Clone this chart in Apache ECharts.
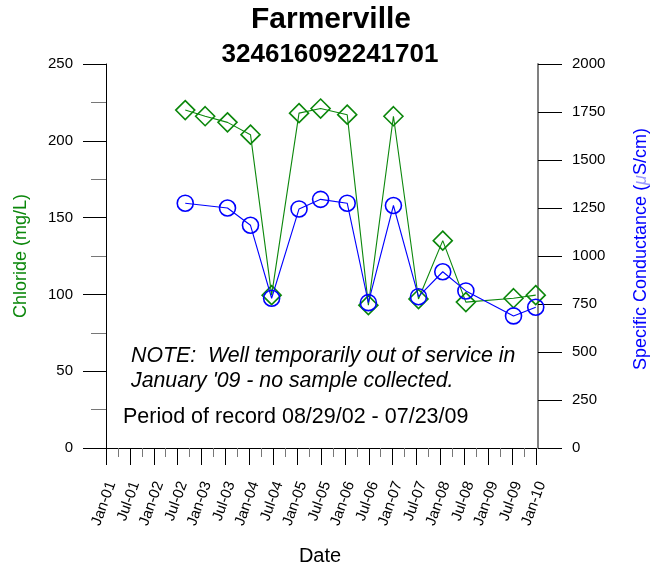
<!DOCTYPE html>
<html>
<head>
<meta charset="utf-8">
<script src="https://cdn.jsdelivr.net/npm/echarts@6/dist/echarts.min.js"></script>
<style>
html,body{margin:0;padding:0;background:#fff;}
#chart{width:657px;height:571px;}
</style>
</head>
<body>
<div id="chart"></div>
<script>
// ---- data ----
var sampleDates = ['2002-08-29','2003-01-29','2003-07-17','2004-01-10','2004-06-19','2005-01-16','2005-06-28','2006-01-19','2006-06-28','2007-01-07','2007-07-16','2008-01-19','2008-07-13','2009-07-12','2009-12-30'];
var chloride = [220, 216, 212, 204, 99.5, 218, 221, 217, 93, 216, 97, 135, 95, 97.5, 99.5];
var conductance = [1275, null, 1250, 1160, 780, 1245, 1295, 1275, 757, 1263, 788, 918, 818, 688, 733];
var xTickLabels = ['Jan-01','Jul-01','Jan-02','Jul-02','Jan-03','Jul-03','Jan-04','Jul-04','Jan-05','Jul-05','Jan-06','Jul-06','Jan-07','Jul-07','Jan-08','Jul-08','Jan-09','Jul-09','Jan-10'];
var chlorideTicks = [0, 50, 100, 150, 200, 250];
var conductanceTicks = [0, 250, 500, 750, 1000, 1250, 1500, 1750, 2000];

// months since Jan 2001
function monthIndex(s) {
  var p = s.split('-');
  var y = +p[0], m = +p[1], d = +p[2];
  var dim = new Date(y, m, 0).getDate();
  return (y - 2001) * 12 + (m - 1) + (d - 1) / dim;
}
var greenData = sampleDates.map(function (d, i) { return [monthIndex(d), chloride[i]]; });
var blueData = sampleDates.map(function (d, i) { return [monthIndex(d), conductance[i]]; });

var chart = echarts.init(document.getElementById('chart'), null, {renderer: 'canvas'});
var FONT = 'Liberation Sans, Arial, sans-serif';
var GREEN = '#0b870b';
var option = {
  backgroundColor: '#fff',
  animation: false,
  textStyle: {fontFamily: FONT},
  grid: {left: 106, right: 121, top: 64, bottom: 123, containLabel: false},
  xAxis: {
    type: 'value', min: 0, max: 108, interval: 6,
    axisLine: {show: true, lineStyle: {color: '#000', width: 1}},
    axisTick: {show: true, length: 17, lineStyle: {color: '#000'}},
    minorTick: {show: true, splitNumber: 2, length: 9, lineStyle: {color: '#777'}},
    splitLine: {show: false},
    axisLabel: {
      rotate: 70, margin: 32, fontSize: 15, color: '#000', fontFamily: FONT,
      verticalAlign: 'top', lineHeight: 12,
      formatter: function (v) { return xTickLabels[Math.round(v / 6)] || ''; }
    }
  },
  yAxis: [{
    type: 'value', min: 0, max: 250, interval: 50, position: 'left',
    axisLine: {show: true, lineStyle: {color: '#000', width: 1}},
    axisTick: {show: true, length: 23, lineStyle: {color: '#000'}},
    minorTick: {show: true, splitNumber: 2, length: 15, lineStyle: {color: '#777'}},
    splitLine: {show: false},
    axisLabel: {margin: 33, fontSize: 15, color: '#000', fontFamily: FONT,
      formatter: function (v) { return String(v); }},
    name: 'Chloride (mg/L)', nameLocation: 'middle', nameGap: 76,
    nameTextStyle: {fontSize: 18, color: GREEN, fontFamily: FONT}
  }, {
    type: 'value', min: 0, max: 2000, interval: 250, position: 'right', offset: 2,
    axisLine: {show: true, lineStyle: {color: '#808080', width: 2}},
    axisTick: {show: true, length: 24, lineStyle: {color: '#000'}},
    splitLine: {show: false},
    axisLabel: {margin: 34, fontSize: 15, color: '#000', fontFamily: FONT,
      formatter: function (v) { return String(v); }}
  }],
  series: [{
    name: 'Chloride', type: 'line', xAxisIndex: 0, yAxisIndex: 0,
    data: greenData, symbol: 'diamond', symbolSize: 19, clip: false,
    itemStyle: {color: 'rgba(0,0,0,0)', borderColor: GREEN, borderWidth: 1.6},
    lineStyle: {color: GREEN, width: 1.1},
    z: 2
  }, {
    name: 'Specific Conductance', type: 'line', xAxisIndex: 0, yAxisIndex: 1,
    data: blueData, connectNulls: true, symbol: 'circle', symbolSize: 16, clip: false,
    itemStyle: {color: 'rgba(0,0,0,0)', borderColor: '#0000ff', borderWidth: 1.6},
    lineStyle: {color: '#0000ff', width: 1.1},
    z: 3
  }],
  graphic: [
    {type: 'text', x: 331, y: 20, style: {text: 'Farmerville', font: 'bold 30px ' + FONT, fill: '#000', textAlign: 'center', textVerticalAlign: 'middle'}},
    {type: 'text', x: 330, y: 55, style: {text: '324616092241701', font: 'bold 26px ' + FONT, fill: '#000', textAlign: 'center', textVerticalAlign: 'middle'}},
    {type: 'text', x: 131, y: 356, style: {text: 'NOTE:  Well temporarily out of service in', font: 'italic 21.3px ' + FONT, fill: '#000', textAlign: 'left', textVerticalAlign: 'middle'}},
    {type: 'text', x: 131, y: 381, style: {text: "January '09 - no sample collected.", font: 'italic 21.3px ' + FONT, fill: '#000', textAlign: 'left', textVerticalAlign: 'middle'}},
    {type: 'text', x: 123, y: 417, style: {text: 'Period of record 08/29/02 - 07/23/09', font: '21.5px ' + FONT, fill: '#000', textAlign: 'left', textVerticalAlign: 'middle'}},
    {type: 'text', x: 320, y: 556, style: {text: 'Date', font: '20px ' + FONT, fill: '#000', textAlign: 'center', textVerticalAlign: 'middle'}},
    {type: 'text', x: 641, y: 249, rotation: Math.PI / 2,
      style: {
        text: '{t|Specific Conductance (}{mu|μ}{t|S/cm)}', textAlign: 'center', textVerticalAlign: 'middle',
        rich: {
          t: {fontSize: 18, fill: '#0000ff', fontFamily: FONT},
          mu: {fontSize: 18, fill: '#9a9aff', fontStyle: 'italic', fontFamily: FONT}
        }
      }}
  ]
};
chart.setOption(option);
</script>
</body>
</html>
